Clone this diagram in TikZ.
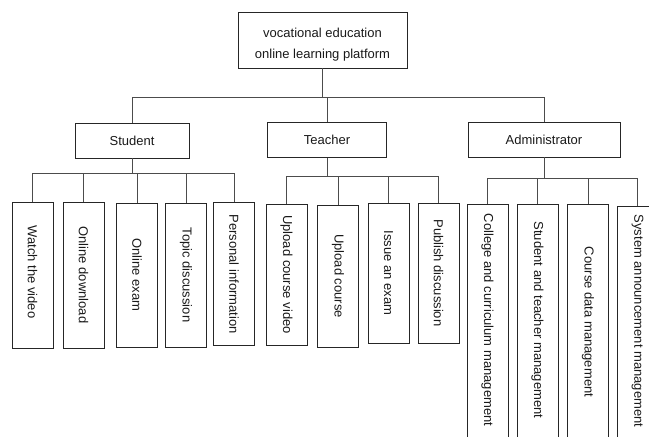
\documentclass[tikz,border=0pt]{standalone}
\usepackage{fontspec}
\setmainfont{Liberation Sans}
\begin{document}
\begin{tikzpicture}[x=1pt,y=-1pt,
  box/.style={draw=black!85, line width=0.8pt, rectangle, inner sep=0pt,
    font=\fontsize{13}{21}\selectfont, text=black!90},
  topbox/.style={box, minimum width=169pt, minimum height=56pt},
  rolebox/.style={box, minimum height=35pt},
  leaf/.style={box, rotate=-90, minimum height=41pt},
  link/.style={draw=black!70, line width=0.8pt}
]
\useasboundingbox (0,0) rectangle (649,437);
\clip (0,0) rectangle (649,437);

% platform and the three roles
\node[topbox] (root) at (322.5,40) {};
\node[font=\fontsize{13}{21}\selectfont, text=black!90, align=center, inner sep=0pt]
  (roottext) at ([yshift=-4.5pt]root.center) {vocational education\\online learning platform};
\node[rolebox, minimum width=114pt] (stu) at (132,140.5) {Student};
\node[rolebox, minimum width=119pt] (tea) at (327,140) {Teacher};
\node[rolebox, minimum width=152pt] (adm) at (544,139.5) {Administrator};

% student functions
\node[leaf, minimum width=146pt] (s1) at (32.5,275) {\hspace*{-6pt}Watch the video};
\node[leaf, minimum width=146pt] (s2) at (83.5,275) {Online download};
\node[leaf, minimum width=144pt] (s3) at (137,275) {Online exam};
\node[leaf, minimum width=144pt] (s4) at (186,275) {Topic discussion};
\node[leaf, minimum width=143pt] (s5) at (234,274) {Personal information};

% teacher functions
\node[leaf, minimum width=141pt] (t1) at (286.5,274.5) {Upload course video};
\node[leaf, minimum width=142pt] (t2) at (338,276) {Upload course};
\node[leaf, minimum width=140pt] (t3) at (388.5,273) {Issue an exam};
\node[leaf, minimum width=140pt] (t4) at (438.5,273) {Publish discussion};

% administrator functions (running past the lower edge)
\node[leaf, minimum width=242pt] (a1) at (487.5,325) {\hspace*{-10pt}College and curriculum management};
\node[leaf, minimum width=242pt] (a2) at (537.5,325) {\hspace*{-10pt}Student and teacher management};
\node[leaf, minimum width=242pt] (a3) at (588,325) {\hspace*{-6pt}Course data management};
\node[leaf, minimum width=240pt] (a4) at (637.5,326) {\hspace*{-10pt}System announcement management};

% platform to roles
\draw[link] (root.south) -- ++(0,29) coordinate (rb);
\draw[link] (stu.north) -- (stu.north |- rb) -- (adm.north |- rb) -- (adm.north);
\draw[link] (tea.north) -- (tea.north |- rb);

% student bus
\draw[link] (stu.south) -- ++(0,15) coordinate (sb);
\draw[link] (s1.west) -- (s1.west |- sb) -- (s5.west |- sb) -- (s5.west);
\foreach \n in {s2,s3,s4} \draw[link] (\n.west) -- (\n.west |- sb);

% teacher bus
\draw[link] (tea.south) -- ++(0,18) coordinate (tb);
\draw[link] (t1.west) -- (t1.west |- tb) -- (t4.west |- tb) -- (t4.west);
\foreach \n in {t2,t3} \draw[link] (\n.west) -- (\n.west |- tb);

% administrator bus
\draw[link] (adm.south) -- ++(0,21) coordinate (ab);
\draw[link] (a1.west) -- (a1.west |- ab) -- (a4.west |- ab) -- (a4.west);
\foreach \n in {a2,a3} \draw[link] (\n.west) -- (\n.west |- ab);
\end{tikzpicture}
\end{document}
